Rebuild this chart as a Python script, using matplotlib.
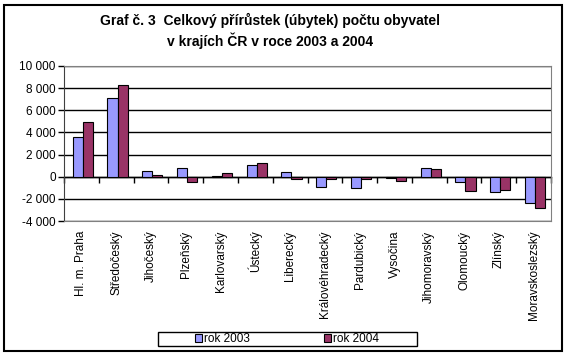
import matplotlib
matplotlib.use('Agg')
import matplotlib.pyplot as plt
import numpy as np
from matplotlib.patches import Rectangle
from matplotlib.ticker import FuncFormatter, MultipleLocator

plt.rcParams['font.family'] = ['Liberation Sans', 'DejaVu Sans']

# Krajské hodnoty celkového přírůstku (úbytku) obyvatel
KRAJE = ["Hl. m. Praha", "Středočeský", "Jihočeský", "Plzeňský", "Karlovarský",
         "Ústecký", "Liberecký", "Královéhradecký", "Pardubický", "Vysočina",
         "Jihomoravský", "Olomoucký", "Zlínský", "Moravskoslezský"]
ROK_2003 = [3600, 7100, 500, 800, 30, 1050, 420, -900, -1050, -150, 750, -450, -1350, -2400]
ROK_2004 = [4950, 8300, 150, -520, 330, 1230, -180, -240, -240, -360, 690, -1260, -1170, -2800]
SERIE = ["rok 2003", "rok 2004"]

BARVA_2003 = "#9999FF"
BARVA_2004 = "#993366"

W, H = 567, 356
fig = plt.figure(figsize=(W / 100, H / 100), dpi=100)
ax = fig.add_axes([64 / W, 1 - 221 / H, (551 - 64) / W, (221 - 66) / H])

x = np.arange(len(KRAJE))
sirka = 0.29
ax.bar(x - sirka / 2 + 0.04, ROK_2003, sirka, color=BARVA_2003, edgecolor="black",
       linewidth=0.8, label=SERIE[0], zorder=3)
ax.bar(x + sirka / 2 + 0.04, ROK_2004, sirka, color=BARVA_2004, edgecolor="black",
       linewidth=0.8, label=SERIE[1], zorder=3)

ax.set_xlim(-0.5, len(KRAJE) - 0.5)
ax.set_ylim(-4000, 10000)
ax.yaxis.set_major_locator(MultipleLocator(2000))
ax.yaxis.set_major_formatter(FuncFormatter(lambda v, p: f"{int(v):,}".replace(",", " ")))
ax.grid(axis="y", color="black", linewidth=1.0, zorder=1)
ax.tick_params(axis="y", length=4, width=1, labelsize=8.5, pad=2, color="black")

ax.set_xticks(x)
ax.set_xticklabels(KRAJE, rotation=90, fontsize=8.5)
ax.tick_params(axis="x", length=0, pad=7)

for s in ("top", "right", "bottom"):
    ax.spines[s].set_color("#808080")
ax.spines["left"].set_color("#404040")

# nulová osa s dílky mezi kategoriemi
osa0 = ax.secondary_xaxis(0, transform=ax.transData)
osa0.set_xticks(np.arange(len(KRAJE) + 1) - 0.5)
osa0.set_xticklabels([])
osa0.tick_params(axis="x", direction="out", length=4, width=1, color="black")
osa0.spines["bottom"].set_color("black")
osa0.spines["bottom"].set_linewidth(1.0)

fig.text(270 / W, 1 - 31 / H,
         "Graf č. 3  Celkový přírůstek (úbytek) počtu obyvatel\nv krajích ČR v roce 2003 a 2004",
         ha="center", va="center", fontsize=10, fontweight="bold", linespacing=1.35)

# legenda bez vlastního rámečku, rámeček je kreslen zvlášť (širší, jako v Excelu)
fig.legend(loc="center", bbox_to_anchor=(287 / W, 1 - 339 / H), ncol=2,
           fontsize=8.5, frameon=False,
           handlelength=0.6, handleheight=0.6, handletextpad=0.2,
           columnspacing=6.2, borderpad=0.0)
fig.patches.append(Rectangle((158 / W, 1 - 346 / H), (417 - 158) / W, (346 - 332) / H,
                             transform=fig.transFigure, fill=False,
                             edgecolor="black", linewidth=1.0))

fig.patches.append(Rectangle((4 / W, 1 - 351 / H), (562 - 4) / W, (351 - 5) / H,
                             transform=fig.transFigure, fill=False,
                             edgecolor="black", linewidth=1.5))

fig.savefig("out.png", dpi=100)
